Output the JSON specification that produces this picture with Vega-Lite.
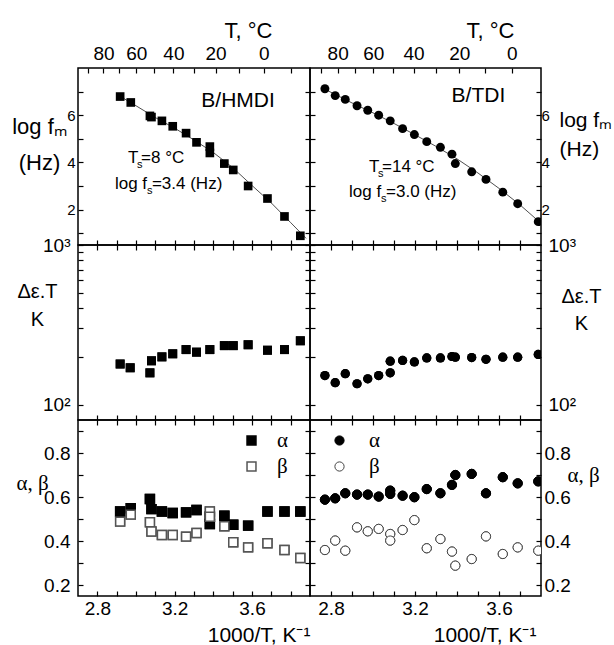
{
  "$schema": "https://vega.github.io/schema/vega-lite/v6.json",
  "padding": {"left": 10, "top": 18, "right": 0, "bottom": 0},
  "columns": 2,
  "spacing": 0,
  "bounds": "flush",
  "config": {
    "font": "Liberation Sans",
    "view": {"stroke": "black", "strokeWidth": 1.5},
    "axis": {"domain": false, "grid": false, "tickColor": "black", "tickWidth": 1.2, "tickSize": -5, "labelFont": "Liberation Sans", "labelColor": "black", "labelOverlap": false, "labelFlush": false, "titleFont": "Liberation Sans", "titleFontWeight": "normal", "titleColor": "black"},
    "legend": {"labelColor": "black"},
    "text": {"font": "Liberation Sans", "color": "black"}
  },
  "resolve": {"scale": {"x": "independent", "y": "independent", "fill": "independent", "stroke": "independent"}, "legend": {"fill": "independent", "stroke": "independent"}},
  "datasets": {
    "hmdi_f": [
      {"x": 2.918, "y": 6.79}, {"x": 2.973, "y": 6.54}, {"x": 3.072, "y": 5.97}, {"x": 3.08, "y": 5.92},
      {"x": 3.134, "y": 5.76}, {"x": 3.19, "y": 5.53}, {"x": 3.259, "y": 5.24}, {"x": 3.313, "y": 4.85},
      {"x": 3.382, "y": 4.67}, {"x": 3.382, "y": 4.40}, {"x": 3.457, "y": 3.95}, {"x": 3.503, "y": 3.68},
      {"x": 3.58, "y": 3.0}, {"x": 3.68, "y": 2.47}, {"x": 3.768, "y": 1.71}, {"x": 3.85, "y": 0.89}
    ],
    "hmdi_fit": [
      {"x": 2.918, "y": 6.8}, {"x": 3.0, "y": 6.4}, {"x": 3.1, "y": 5.9}, {"x": 3.2, "y": 5.45},
      {"x": 3.3, "y": 4.95}, {"x": 3.4, "y": 4.42}, {"x": 3.5, "y": 3.78}, {"x": 3.6, "y": 3.02},
      {"x": 3.7, "y": 2.28}, {"x": 3.8, "y": 1.45}, {"x": 3.88, "y": 0.78}
    ],
    "tdi_f": [
      {"x": 2.771, "y": 7.12}, {"x": 2.82, "y": 6.83}, {"x": 2.868, "y": 6.67}, {"x": 2.924, "y": 6.40},
      {"x": 2.975, "y": 6.21}, {"x": 3.027, "y": 6.0}, {"x": 3.082, "y": 5.76}, {"x": 3.141, "y": 5.43},
      {"x": 3.197, "y": 5.18}, {"x": 3.256, "y": 4.88}, {"x": 3.321, "y": 4.64}, {"x": 3.376, "y": 4.35},
      {"x": 3.392, "y": 3.95}, {"x": 3.47, "y": 3.60}, {"x": 3.538, "y": 3.28}, {"x": 3.618, "y": 2.74},
      {"x": 3.689, "y": 2.25}, {"x": 3.787, "y": 1.49}
    ],
    "tdi_fit": [
      {"x": 2.771, "y": 7.1}, {"x": 2.9, "y": 6.52}, {"x": 3.0, "y": 6.1}, {"x": 3.1, "y": 5.65},
      {"x": 3.2, "y": 5.17}, {"x": 3.3, "y": 4.68}, {"x": 3.4, "y": 4.15}, {"x": 3.5, "y": 3.55},
      {"x": 3.6, "y": 2.9}, {"x": 3.7, "y": 2.2}, {"x": 3.8, "y": 1.42}
    ],
    "hmdi_e": [
      {"x": 2.918, "y": 179.5}, {"x": 2.97, "y": 170}, {"x": 3.072, "y": 158}, {"x": 3.08, "y": 188},
      {"x": 3.134, "y": 199}, {"x": 3.19, "y": 208}, {"x": 3.259, "y": 221}, {"x": 3.313, "y": 213},
      {"x": 3.382, "y": 221}, {"x": 3.457, "y": 234}, {"x": 3.503, "y": 234}, {"x": 3.58, "y": 237},
      {"x": 3.68, "y": 219}, {"x": 3.768, "y": 221}, {"x": 3.85, "y": 251}
    ],
    "tdi_e": [
      {"x": 2.771, "y": 152}, {"x": 2.82, "y": 137}, {"x": 2.868, "y": 156}, {"x": 2.924, "y": 135},
      {"x": 2.975, "y": 145}, {"x": 3.027, "y": 152}, {"x": 3.082, "y": 158}, {"x": 3.082, "y": 187},
      {"x": 3.141, "y": 189}, {"x": 3.197, "y": 185}, {"x": 3.256, "y": 196}, {"x": 3.321, "y": 196},
      {"x": 3.376, "y": 200}, {"x": 3.392, "y": 198}, {"x": 3.47, "y": 197}, {"x": 3.538, "y": 192},
      {"x": 3.618, "y": 198}, {"x": 3.689, "y": 198}, {"x": 3.787, "y": 206}
    ],
    "hmdi_ab": [
      {"x": 2.918, "y": 0.534, "p": "α"}, {"x": 2.973, "y": 0.549, "p": "α"}, {"x": 3.072, "y": 0.591, "p": "α"},
      {"x": 3.08, "y": 0.545, "p": "α"}, {"x": 3.134, "y": 0.534, "p": "α"}, {"x": 3.19, "y": 0.527, "p": "α"},
      {"x": 3.259, "y": 0.53, "p": "α"}, {"x": 3.313, "y": 0.541, "p": "α"}, {"x": 3.382, "y": 0.51, "p": "α"},
      {"x": 3.382, "y": 0.477, "p": "α"}, {"x": 3.457, "y": 0.515, "p": "α"}, {"x": 3.503, "y": 0.474, "p": "α"},
      {"x": 3.58, "y": 0.47, "p": "α"}, {"x": 3.68, "y": 0.534, "p": "α"}, {"x": 3.768, "y": 0.534, "p": "α"},
      {"x": 3.85, "y": 0.534, "p": "α"},
      {"x": 2.918, "y": 0.488, "p": "β"}, {"x": 2.973, "y": 0.52, "p": "β"}, {"x": 3.072, "y": 0.485, "p": "β"},
      {"x": 3.08, "y": 0.443, "p": "β"}, {"x": 3.134, "y": 0.427, "p": "β"}, {"x": 3.19, "y": 0.427, "p": "β"},
      {"x": 3.259, "y": 0.42, "p": "β"}, {"x": 3.313, "y": 0.436, "p": "β"}, {"x": 3.382, "y": 0.534, "p": "β"},
      {"x": 3.382, "y": 0.51, "p": "β"}, {"x": 3.457, "y": 0.467, "p": "β"}, {"x": 3.503, "y": 0.394, "p": "β"},
      {"x": 3.58, "y": 0.371, "p": "β"}, {"x": 3.68, "y": 0.39, "p": "β"}, {"x": 3.768, "y": 0.359, "p": "β"},
      {"x": 3.85, "y": 0.323, "p": "β"}
    ],
    "tdi_ab": [
      {"x": 2.771, "y": 0.588, "p": "α"}, {"x": 2.82, "y": 0.594, "p": "α"}, {"x": 2.868, "y": 0.617, "p": "α"},
      {"x": 2.924, "y": 0.611, "p": "α"}, {"x": 2.975, "y": 0.611, "p": "α"}, {"x": 3.027, "y": 0.602, "p": "α"},
      {"x": 3.082, "y": 0.629, "p": "α"}, {"x": 3.082, "y": 0.614, "p": "α"}, {"x": 3.141, "y": 0.606, "p": "α"},
      {"x": 3.197, "y": 0.599, "p": "α"}, {"x": 3.256, "y": 0.636, "p": "α"}, {"x": 3.321, "y": 0.617, "p": "α"},
      {"x": 3.376, "y": 0.655, "p": "α"}, {"x": 3.392, "y": 0.70, "p": "α"}, {"x": 3.47, "y": 0.705, "p": "α"},
      {"x": 3.538, "y": 0.617, "p": "α"}, {"x": 3.618, "y": 0.69, "p": "α"}, {"x": 3.689, "y": 0.662, "p": "α"},
      {"x": 3.787, "y": 0.671, "p": "α"},
      {"x": 2.771, "y": 0.359, "p": "β"}, {"x": 2.82, "y": 0.402, "p": "β"}, {"x": 2.868, "y": 0.356, "p": "β"},
      {"x": 2.924, "y": 0.462, "p": "β"}, {"x": 2.975, "y": 0.444, "p": "β"}, {"x": 3.027, "y": 0.455, "p": "β"},
      {"x": 3.082, "y": 0.432, "p": "β"}, {"x": 3.082, "y": 0.402, "p": "β"}, {"x": 3.141, "y": 0.45, "p": "β"},
      {"x": 3.197, "y": 0.495, "p": "β"}, {"x": 3.256, "y": 0.367, "p": "β"}, {"x": 3.321, "y": 0.409, "p": "β"},
      {"x": 3.376, "y": 0.352, "p": "β"}, {"x": 3.392, "y": 0.288, "p": "β"}, {"x": 3.47, "y": 0.318, "p": "β"},
      {"x": 3.538, "y": 0.421, "p": "β"}, {"x": 3.618, "y": 0.341, "p": "β"}, {"x": 3.689, "y": 0.371, "p": "β"},
      {"x": 3.787, "y": 0.356, "p": "β"}
    ]
  },
  "concat": [
    {
      "width": 232, "height": 177,
      "resolve": {"axis": {"x": "independent", "y": "independent"}},
      "layer": [
        {
          "data": {"name": "hmdi_fit"},
          "mark": {"type": "line", "color": "#222", "strokeWidth": 0.8},
          "encoding": {
            "x": {"field": "x", "type": "quantitative", "scale": {"domain": [2.7, 3.9]},
                  "axis": {"orient": "bottom", "values": [2.8, 2.9, 3.0, 3.1, 3.2, 3.3, 3.4, 3.5, 3.6, 3.7, 3.8], "labels": false, "title": null}},
            "y": {"field": "y", "type": "quantitative", "scale": {"domain": [0.5, 8]},
                  "axis": {"orient": "left", "values": [1, 2, 3, 4, 5, 6, 7], "labelExpr": "datum.value % 2 == 0 ? datum.label : ''", "labelFontSize": 15, "labelPadding": 8,
                           "title": ["log fₘ", "(Hz)"], "titleAngle": 0, "titleFontSize": 22, "titleAlign": "center", "titleBaseline": "middle", "titleX": -39, "titleY": 58, "titleLineHeight": 36}}
          }
        },
        {
          "data": {"name": "hmdi_f"},
          "mark": {"type": "square", "size": 75, "color": "black", "opacity": 1, "clip": true},
          "encoding": {
            "x": {"field": "x", "type": "quantitative", "scale": {"domain": [2.7, 3.9]},
                  "axis": {"orient": "top", "values": [2.75368, 2.83166, 2.91418, 3.00165, 3.09454, 3.19336, 3.2987, 3.41122, 3.5317, 3.66099, 3.80011],
                           "labelExpr": "round(1000/datum.value-273.15) % 20 == 0 ? format(round(1000/datum.value-273.15),'d') : ''", "labelFontSize": 19, "labelPadding": 10,
                           "title": "T, °C", "titleFontSize": 22, "titleAlign": "right", "titleBaseline": "middle", "titleX": 194, "titleY": -38}},
            "y": {"field": "y", "type": "quantitative", "scale": {"domain": [0.5, 8]},
                  "axis": {"orient": "right", "values": [1, 2, 3, 4, 5, 6, 7], "labels": false, "title": null}}
          }
        },
        {
          "data": {"values": [{}]},
          "mark": {"type": "text", "text": "B/HMDI", "fontSize": 21, "align": "center", "baseline": "middle"},
          "encoding": {"x": {"datum": 3.528, "type": "quantitative", "axis": null, "scale": {"domain": [2.7, 3.9]}}, "y": {"datum": 6.6, "type": "quantitative", "axis": null, "scale": {"domain": [0.5, 8]}}}
        },
        {
          "data": {"values": [{}]},
          "layer": [
            {"mark": {"type": "text", "text": "T", "fontSize": 17, "align": "left", "baseline": "middle"}},
            {"mark": {"type": "text", "text": "s", "fontSize": 11, "align": "left", "baseline": "middle", "dx": 9, "dy": 7}},
            {"mark": {"type": "text", "text": "=8 °C", "fontSize": 17, "align": "left", "baseline": "middle", "dx": 13}}
          ],
          "encoding": {"x": {"datum": 2.959, "type": "quantitative", "axis": null, "scale": {"domain": [2.7, 3.9]}}, "y": {"datum": 4.17, "type": "quantitative", "axis": null, "scale": {"domain": [0.5, 8]}}}
        },
        {
          "data": {"values": [{}]},
          "layer": [
            {"mark": {"type": "text", "text": "log f", "fontSize": 17, "align": "left", "baseline": "middle"}},
            {"mark": {"type": "text", "text": "s", "fontSize": 11, "align": "left", "baseline": "middle", "dx": 32, "dy": 7}},
            {"mark": {"type": "text", "text": "=3.4 (Hz)", "fontSize": 17, "align": "left", "baseline": "middle", "dx": 37}}
          ],
          "encoding": {"x": {"datum": 2.891, "type": "quantitative", "axis": null, "scale": {"domain": [2.7, 3.9]}}, "y": {"datum": 3.1, "type": "quantitative", "axis": null, "scale": {"domain": [0.5, 8]}}}
        }
      ]
    },
    {
      "width": 231, "height": 177,
      "resolve": {"axis": {"x": "independent", "y": "independent"}},
      "layer": [
        {
          "data": {"name": "tdi_fit"},
          "mark": {"type": "line", "color": "#222", "strokeWidth": 0.8, "clip": true},
          "encoding": {
            "x": {"field": "x", "type": "quantitative", "scale": {"domain": [2.7, 3.8]},
                  "axis": {"orient": "bottom", "values": [2.8, 2.9, 3.0, 3.1, 3.2, 3.3, 3.4, 3.5, 3.6, 3.7], "labels": false, "title": null}},
            "y": {"field": "y", "type": "quantitative", "scale": {"domain": [0.5, 8]},
                  "axis": {"orient": "left", "values": [1, 2, 3, 4, 5, 6, 7], "labels": false, "title": null}}
          }
        },
        {
          "data": {"name": "tdi_f"},
          "mark": {"type": "circle", "size": 80, "color": "black", "opacity": 1, "clip": true},
          "encoding": {
            "x": {"field": "x", "type": "quantitative", "scale": {"domain": [2.7, 3.8]},
                  "axis": {"orient": "top", "values": [2.75368, 2.83166, 2.91418, 3.00165, 3.09454, 3.19336, 3.2987, 3.41122, 3.5317, 3.66099],
                           "labelExpr": "round(1000/datum.value-273.15) % 20 == 0 ? format(round(1000/datum.value-273.15),'d') : ''", "labelFontSize": 19, "labelPadding": 10,
                           "title": "T, °C", "titleFontSize": 22, "titleAlign": "right", "titleBaseline": "middle", "titleX": 204, "titleY": -38}},
            "y": {"field": "y", "type": "quantitative", "scale": {"domain": [0.5, 8]},
                  "axis": {"orient": "right", "values": [1, 2, 3, 4, 5, 6, 7], "labelExpr": "datum.value % 2 == 0 ? datum.label : ''", "labelFontSize": 15, "labelPadding": 5,
                           "title": ["log fₘ", "(Hz)"], "titleAngle": 0, "titleFontSize": 21, "titleAlign": "left", "titleBaseline": "middle", "titleX": 18, "titleY": 52, "titleLineHeight": 29}}
          }
        },
        {
          "data": {"values": [{}]},
          "mark": {"type": "text", "text": "B/TDI", "fontSize": 21, "align": "center", "baseline": "middle"},
          "encoding": {"x": {"datum": 3.502, "type": "quantitative", "axis": null, "scale": {"domain": [2.7, 3.8]}}, "y": {"datum": 6.83, "type": "quantitative", "axis": null, "scale": {"domain": [0.5, 8]}}}
        },
        {
          "data": {"values": [{}]},
          "layer": [
            {"mark": {"type": "text", "text": "T", "fontSize": 17, "align": "left", "baseline": "middle"}},
            {"mark": {"type": "text", "text": "s", "fontSize": 11, "align": "left", "baseline": "middle", "dx": 9, "dy": 7}},
            {"mark": {"type": "text", "text": "=14 °C", "fontSize": 17, "align": "left", "baseline": "middle", "dx": 13}}
          ],
          "encoding": {"x": {"datum": 2.981, "type": "quantitative", "axis": null, "scale": {"domain": [2.7, 3.8]}}, "y": {"datum": 3.82, "type": "quantitative", "axis": null, "scale": {"domain": [0.5, 8]}}}
        },
        {
          "data": {"values": [{}]},
          "layer": [
            {"mark": {"type": "text", "text": "log f", "fontSize": 17, "align": "left", "baseline": "middle"}},
            {"mark": {"type": "text", "text": "s", "fontSize": 11, "align": "left", "baseline": "middle", "dx": 32, "dy": 7}},
            {"mark": {"type": "text", "text": "=3.0 (Hz)", "fontSize": 17, "align": "left", "baseline": "middle", "dx": 37}}
          ],
          "encoding": {"x": {"datum": 2.886, "type": "quantitative", "axis": null, "scale": {"domain": [2.7, 3.8]}}, "y": {"datum": 2.76, "type": "quantitative", "axis": null, "scale": {"domain": [0.5, 8]}}}
        }
      ]
    },
    {
      "width": 232, "height": 175,
      "data": {"name": "hmdi_e"},
      "resolve": {"axis": {"x": "independent", "y": "independent"}},
      "layer": [
        {
          "mark": {"type": "square", "size": 80, "color": "black", "opacity": 1},
          "encoding": {
            "x": {"field": "x", "type": "quantitative", "scale": {"domain": [2.7, 3.9]},
                  "axis": {"orient": "bottom", "values": [2.8, 2.9, 3.0, 3.1, 3.2, 3.3, 3.4, 3.5, 3.6, 3.7, 3.8], "labels": false, "title": null}},
            "y": {"field": "y", "type": "quantitative", "scale": {"type": "log", "domain": [80, 1000]},
                  "axis": {"orient": "left", "values": [100, 200, 300, 400, 500, 600, 700, 800, 900, 1000], "labelExpr": "datum.value == 1000 ? '10³' : (datum.value == 100 ? '10²' : '')", "labelFontSize": 19, "labelPadding": 13,
                           "title": ["Δε.T", "K"], "titleAngle": 0, "titleFontSize": 20, "titleAlign": "center", "titleBaseline": "middle", "titleX": -41, "titleY": 46, "titleLineHeight": 28}}
          }
        },
        {
          "mark": {"type": "square", "size": 80, "color": "black", "opacity": 1},
          "encoding": {
            "x": {"field": "x", "type": "quantitative", "scale": {"domain": [2.7, 3.9]},
                  "axis": {"orient": "top", "values": [2.8, 2.9, 3.0, 3.1, 3.2, 3.3, 3.4, 3.5, 3.6, 3.7, 3.8], "labels": false, "title": null}},
            "y": {"field": "y", "type": "quantitative", "scale": {"type": "log", "domain": [80, 1000]},
                  "axis": {"orient": "right", "values": [100, 200, 300, 400, 500, 600, 700, 800, 900, 1000], "labels": false, "title": null}}
          }
        }
      ]
    },
    {
      "width": 231, "height": 175,
      "data": {"name": "tdi_e"},
      "resolve": {"axis": {"x": "independent", "y": "independent"}},
      "layer": [
        {
          "mark": {"type": "circle", "size": 85, "color": "black", "opacity": 1, "clip": true},
          "encoding": {
            "x": {"field": "x", "type": "quantitative", "scale": {"domain": [2.7, 3.8]},
                  "axis": {"orient": "bottom", "values": [2.8, 2.9, 3.0, 3.1, 3.2, 3.3, 3.4, 3.5, 3.6, 3.7], "labels": false, "title": null}},
            "y": {"field": "y", "type": "quantitative", "scale": {"type": "log", "domain": [80, 1000]},
                  "axis": {"orient": "left", "values": [100, 200, 300, 400, 500, 600, 700, 800, 900, 1000], "labels": false, "title": null}}
          }
        },
        {
          "mark": {"type": "circle", "size": 85, "color": "black", "opacity": 1, "clip": true},
          "encoding": {
            "x": {"field": "x", "type": "quantitative", "scale": {"domain": [2.7, 3.8]},
                  "axis": {"orient": "top", "values": [2.8, 2.9, 3.0, 3.1, 3.2, 3.3, 3.4, 3.5, 3.6, 3.7], "labels": false, "title": null}},
            "y": {"field": "y", "type": "quantitative", "scale": {"type": "log", "domain": [80, 1000]},
                  "axis": {"orient": "right", "values": [100, 200, 300, 400, 500, 600, 700, 800, 900, 1000], "labelExpr": "datum.value == 1000 ? '10³' : (datum.value == 100 ? '10²' : '')", "labelFontSize": 19, "labelPadding": 12,
                           "title": ["Δε.T", "K"], "titleAngle": 0, "titleFontSize": 20, "titleAlign": "center", "titleBaseline": "middle", "titleX": 40, "titleY": 51, "titleLineHeight": 27}}
          }
        }
      ]
    },
    {
      "width": 232, "height": 176,
      "data": {"name": "hmdi_ab"},
      "resolve": {"axis": {"x": "independent", "y": "independent"}},
      "layer": [
        {
          "mark": {"type": "square", "size": 80, "strokeWidth": 1.5, "opacity": 1},
          "encoding": {
            "x": {"field": "x", "type": "quantitative", "scale": {"domain": [2.7, 3.9]},
                  "axis": {"orient": "bottom", "values": [2.8, 2.9, 3.0, 3.1, 3.2, 3.3, 3.4, 3.5, 3.6, 3.7, 3.8], "labelExpr": "indexof(['2.8','3.2','3.6'], format(datum.value,'.1f')) >= 0 ? format(datum.value,'.1f') : ''", "labelFontSize": 19, "labelPadding": 8,
                           "title": "1000/T, K⁻¹", "titleFontSize": 21, "titleAlign": "right", "titleBaseline": "middle", "titleX": 232, "titleY": 39}},
            "y": {"field": "y", "type": "quantitative", "scale": {"domain": [0.15, 0.95]},
                  "axis": {"orient": "left", "values": [0.2, 0.3, 0.4, 0.5, 0.6, 0.7, 0.8, 0.9], "labelExpr": "indexof(['0.2','0.4','0.6','0.8'], format(datum.value,'.1f')) >= 0 ? format(datum.value,'.1f') : ''", "labelFontSize": 19, "labelPadding": 13,
                           "title": "α, β", "titleFont": "Liberation Serif", "titleAngle": 0, "titleFontSize": 21, "titleAlign": "center", "titleBaseline": "middle", "titleX": -46, "titleY": 63}},
            "fill": {"field": "p", "type": "nominal", "scale": {"domain": ["α", "β"], "range": ["black", "white"]},
                     "legend": {"orient": "none", "legendX": 163, "legendY": 10, "title": null, "symbolType": "square", "symbolSize": 80, "symbolStrokeWidth": 1.5, "labelFont": "Liberation Serif", "labelFontSize": 21, "labelOffset": 15, "rowPadding": 4}},
            "stroke": {"field": "p", "type": "nominal", "scale": {"domain": ["α", "β"], "range": ["black", "#555"]},
                     "legend": {"orient": "none", "legendX": 163, "legendY": 10, "title": null, "symbolType": "square", "symbolSize": 80, "symbolStrokeWidth": 1.5, "labelFont": "Liberation Serif", "labelFontSize": 21, "labelOffset": 15, "rowPadding": 4}}
          }
        },
        {
          "mark": {"type": "square", "size": 80, "strokeWidth": 1.5, "opacity": 1},
          "encoding": {
            "x": {"field": "x", "type": "quantitative", "scale": {"domain": [2.7, 3.9]},
                  "axis": {"orient": "top", "values": [2.8, 2.9, 3.0, 3.1, 3.2, 3.3, 3.4, 3.5, 3.6, 3.7, 3.8], "labels": false, "title": null}},
            "y": {"field": "y", "type": "quantitative", "scale": {"domain": [0.15, 0.95]},
                  "axis": {"orient": "right", "values": [0.2, 0.3, 0.4, 0.5, 0.6, 0.7, 0.8, 0.9], "labels": false, "title": null}},
            "fill": {"field": "p", "type": "nominal", "scale": {"domain": ["α", "β"], "range": ["black", "white"]}},
            "stroke": {"field": "p", "type": "nominal", "scale": {"domain": ["α", "β"], "range": ["black", "#555"]}}
          }
        }
      ]
    },
    {
      "width": 231, "height": 176,
      "data": {"name": "tdi_ab"},
      "resolve": {"axis": {"x": "independent", "y": "independent"}},
      "layer": [
        {
          "mark": {"type": "circle", "size": 85, "strokeWidth": 1, "opacity": 1, "clip": true},
          "encoding": {
            "x": {"field": "x", "type": "quantitative", "scale": {"domain": [2.7, 3.8]},
                  "axis": {"orient": "bottom", "values": [2.8, 2.9, 3.0, 3.1, 3.2, 3.3, 3.4, 3.5, 3.6, 3.7], "labelExpr": "indexof(['2.8','3.2','3.6'], format(datum.value,'.1f')) >= 0 ? format(datum.value,'.1f') : ''", "labelFontSize": 19, "labelPadding": 8,
                           "title": "1000/T, K⁻¹", "titleFontSize": 21, "titleAlign": "right", "titleBaseline": "middle", "titleX": 226, "titleY": 39}},
            "y": {"field": "y", "type": "quantitative", "scale": {"domain": [0.15, 0.95]},
                  "axis": {"orient": "left", "values": [0.2, 0.3, 0.4, 0.5, 0.6, 0.7, 0.8, 0.9], "labels": false, "title": null}},
            "fill": {"field": "p", "type": "nominal", "scale": {"domain": ["α", "β"], "range": ["black", "white"]},
                     "legend": {"orient": "none", "legendX": 19, "legendY": 10, "title": null, "symbolType": "circle", "symbolSize": 85, "symbolStrokeWidth": 1, "labelFont": "Liberation Serif", "labelFontSize": 21, "labelOffset": 19, "rowPadding": 4}},
            "stroke": {"field": "p", "type": "nominal", "scale": {"domain": ["α", "β"], "range": ["black", "#444"]},
                     "legend": {"orient": "none", "legendX": 19, "legendY": 10, "title": null, "symbolType": "circle", "symbolSize": 85, "symbolStrokeWidth": 1, "labelFont": "Liberation Serif", "labelFontSize": 21, "labelOffset": 19, "rowPadding": 4}}
          }
        },
        {
          "mark": {"type": "circle", "size": 85, "strokeWidth": 1, "opacity": 1, "clip": true},
          "encoding": {
            "x": {"field": "x", "type": "quantitative", "scale": {"domain": [2.7, 3.8]},
                  "axis": {"orient": "top", "values": [2.8, 2.9, 3.0, 3.1, 3.2, 3.3, 3.4, 3.5, 3.6, 3.7], "labels": false, "title": null}},
            "y": {"field": "y", "type": "quantitative", "scale": {"domain": [0.15, 0.95]},
                  "axis": {"orient": "right", "values": [0.2, 0.3, 0.4, 0.5, 0.6, 0.7, 0.8, 0.9], "labelExpr": "indexof(['0.2','0.4','0.6','0.8'], format(datum.value,'.1f')) >= 0 ? format(datum.value,'.1f') : ''", "labelFontSize": 19, "labelPadding": 8,
                           "title": "α, β", "titleFont": "Liberation Serif", "titleAngle": 0, "titleFontSize": 21, "titleAlign": "center", "titleBaseline": "middle", "titleX": 42, "titleY": 55}},
            "fill": {"field": "p", "type": "nominal", "scale": {"domain": ["α", "β"], "range": ["black", "white"]}},
            "stroke": {"field": "p", "type": "nominal", "scale": {"domain": ["α", "β"], "range": ["black", "#444"]}}
          }
        }
      ]
    }
  ]
}
